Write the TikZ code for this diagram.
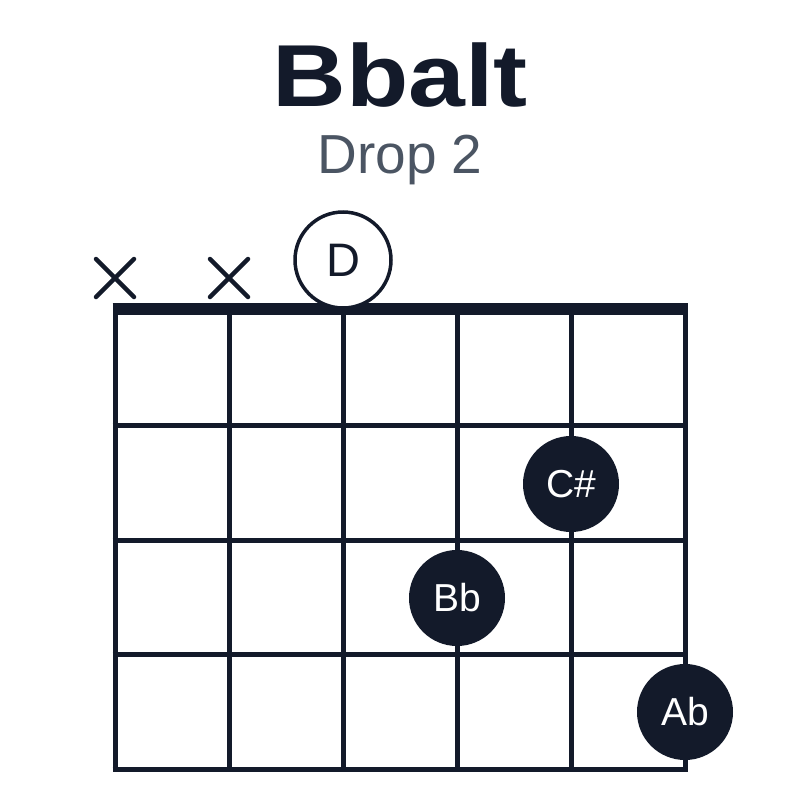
\documentclass[tikz,border=0pt]{standalone}
\usepackage{fontspec}
\setmainfont{Liberation Sans}
\definecolor{ink}{HTML}{131A2A}
\definecolor{subtle}{HTML}{4B5563}
\tikzset{
  gridline/.style={draw=ink, line width=5pt},
  nutline/.style={draw=ink, line width=12pt},
  mutemark/.style={draw=ink, line width=4.5pt, line cap=round},
  opendot/.style={circle, draw=ink, line width=3.5pt, fill=white, minimum size=96pt,
    inner sep=0pt, text=ink, font=\fontsize{47}{50}\selectfont},
  fingerdot/.style={circle, fill=ink, minimum size=96pt, inner sep=0pt,
    text=white, font=\fontsize{39}{42}\selectfont},
}
\begin{document}
\begin{tikzpicture}[yscale=-1]
  \useasboundingbox[fill=white] (0pt,0pt) rectangle (800pt,800pt);

  % titles
  \node[text=ink, font=\fontsize{88}{92}\selectfont\bfseries] (title) at (400pt, 75pt)
    {\scalebox{1.16}[1]{Bbalt}};
  \node[text=subtle, font=\fontsize{55}{58}\selectfont] (subtitle) at (400pt, 160pt) {Drop 2};

  % strings and frets
  \foreach \x in {115,229,343,457,571,685}
    \draw[gridline] (\x pt, 308pt) -- (\x pt, 771pt);
  \foreach \y in {425.5,540,654.5,769}
    \draw[gridline] (112.5pt, \y pt) -- (687.5pt, \y pt);
  \draw[nutline] (112.5pt, 308.5pt) -- (687.5pt, 308.5pt);

  % muted strings
  \foreach \x in {115,229} {
    \draw[mutemark] (\x pt,278pt) +(-19pt,-19pt) -- +(19pt,19pt);
    \draw[mutemark] (\x pt,278pt) +(-19pt,19pt) -- +(19pt,-19pt);
  }

  % notes
  \node[opendot] (open3) at (343pt, 260pt) {D};
  \node[fingerdot] (note5) at (571pt, 484pt) {C\#};
  \node[fingerdot] (note4) at (457pt, 598pt) {Bb};
  \node[fingerdot] (note6) at (685pt, 712pt) {Ab};
\end{tikzpicture}
\end{document}
